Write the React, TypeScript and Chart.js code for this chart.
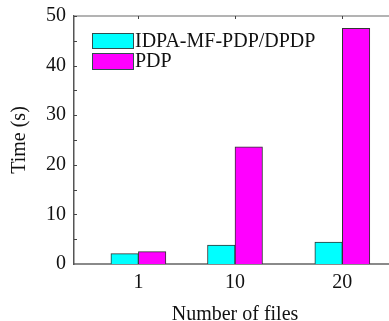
import React, { useEffect, useRef } from 'react';
import { Chart, registerables } from 'chart.js';

Chart.register(...registerables);

const fileCounts = [1, 10, 20];
const xTickLabels = ['1', '10', '20'];
const seriesLabels = ['IDPA-MF-PDP/DPDP', 'PDP'];
const idpaTimes = [2.1, 3.8, 4.4];
const pdpTimes = [2.5, 23.6, 47.5];
const yMajorTicks = [0, 10, 20, 30, 40, 50];
const yMinorTicks = [5, 15, 25, 35, 45];
const seriesColors = ['#00FFFF', '#FF00FF'];

const FONT = '"Liberation Serif", "Times New Roman", serif';

const framePlugin = {
  id: 'frame',
  afterDraw(chart: any) {
    const { ctx, chartArea } = chart;
    const xs = chart.scales.x;
    const ys = chart.scales.y;
    ctx.save();
    // top border
    ctx.strokeStyle = '#9a9a9a';
    ctx.lineWidth = 1.5;
    ctx.beginPath();
    ctx.moveTo(chartArea.left, chartArea.top);
    ctx.lineTo(chartArea.right + 10, chartArea.top);
    ctx.stroke();
    // inward ticks on y axis
    ctx.strokeStyle = '#444';
    ctx.lineWidth = 1;
    [...yMajorTicks, ...yMinorTicks].forEach((v) => {
      const py = Math.round(ys.getPixelForValue(v)) + 0.5;
      if (v === 0) return;
      ctx.beginPath();
      ctx.moveTo(chartArea.left, py);
      ctx.lineTo(chartArea.left + 3, py);
      ctx.stroke();
    });
    // top ticks at categories
    fileCounts.forEach((v) => {
      const px = Math.round(xs.getPixelForValue(v)) + 0.5;
      ctx.beginPath();
      ctx.moveTo(px, chartArea.top);
      ctx.lineTo(px, chartArea.top + 3);
      ctx.stroke();
    });
    // legend
    const rows = [
      { top: 33, h: 15 },
      { top: 53, h: 16 },
    ];
    ctx.font = `20px ${FONT}`;
    ctx.textBaseline = 'middle';
    ctx.textAlign = 'left';
    chart.data.datasets.forEach((ds: any, i: number) => {
      const r = rows[i];
      ctx.fillStyle = ds.backgroundColor;
      ctx.fillRect(92, r.top, 41, r.h);
      ctx.strokeStyle = '#2f4f4f';
      ctx.lineWidth = 1;
      ctx.strokeRect(92.5, r.top + 0.5, 41, r.h);
      ctx.fillStyle = '#111';
      ctx.fillText(ds.label, 135, r.top + r.h / 2 + 1);
    });
    ctx.restore();
  },
};

export default function App() {
  const ref = useRef<HTMLCanvasElement>(null);
  useEffect(() => {
    if (!ref.current) return;
    const chart = new Chart(ref.current, {
      type: 'bar',
      data: {
        datasets: [
          {
            label: seriesLabels[0],
            data: fileCounts.map((x, i) => ({ x, y: idpaTimes[i] })),
            backgroundColor: seriesColors[0],
            borderColor: '#333',
            borderWidth: 1,
            barThickness: 27.5,
          },
          {
            label: seriesLabels[1],
            data: fileCounts.map((x, i) => ({ x, y: pdpTimes[i] })),
            backgroundColor: seriesColors[1],
            borderColor: '#333',
            borderWidth: 1,
            barThickness: 27.5,
          },
        ],
      },
      options: {
        responsive: false,
        animation: false,
        devicePixelRatio: 1,
        layout: { padding: { left: 0, right: 4, top: 16, bottom: 0 } },
        plugins: { legend: { display: false }, tooltip: { enabled: false } },
        scales: {
          x: {
            type: 'linear',
            offset: false,
            min: -5,
            max: 25,
            afterBuildTicks: (s: any) => {
              s.ticks = fileCounts.map((v) => ({ value: v }));
            },
            afterFit: (s: any) => {
              s.height = 57;
              s.paddingLeft = 0;
              s.paddingRight = 0;
            },
            grid: { display: false, drawTicks: false, offset: false },
            border: { display: true, color: '#8a8a8a', width: 2 },
            ticks: {
              autoSkip: false,
              maxRotation: 0,
              padding: 7,
              color: '#111',
              font: { family: FONT, size: 20 },
              callback: (v: any) => {
                const i = fileCounts.indexOf(Number(v));
                return i >= 0 ? xTickLabels[i] : '';
              },
            },
            title: {
              display: true,
              text: 'Number of files',
              color: '#111',
              font: { family: FONT, size: 20, lineHeight: 1 },
              padding: { top: 0, bottom: -4 },
            },
          },
          y: {
            min: 0,
            max: 50,
            afterBuildTicks: (s: any) => {
              s.ticks = yMajorTicks.map((v) => ({ value: v }));
            },
            afterFit: (s: any) => {
              s.width = 74;
              s.paddingTop = 0;
              s.paddingBottom = 0;
            },
            grid: { display: false, drawTicks: false },
            border: { display: true, color: '#555', width: 1.5 },
            ticks: {
              padding: 8,
              color: '#111',
              font: { family: FONT, size: 20 },
            },
            title: {
              display: true,
              text: 'Time (s)',
              color: '#111',
              font: { family: FONT, size: 20, lineHeight: 1.2 },
              padding: { top: 8, bottom: 0 },
            },
          },
        },
      },
      plugins: [framePlugin],
    } as any);
    return () => chart.destroy();
  }, []);
  return (
    <div style={{ position: 'fixed', left: 0, top: 0, width: 389, height: 321, overflow: 'hidden', background: '#fff' }}>
      <canvas ref={ref} width={400} height={321} style={{ display: 'block' }} />
    </div>
  );
}
